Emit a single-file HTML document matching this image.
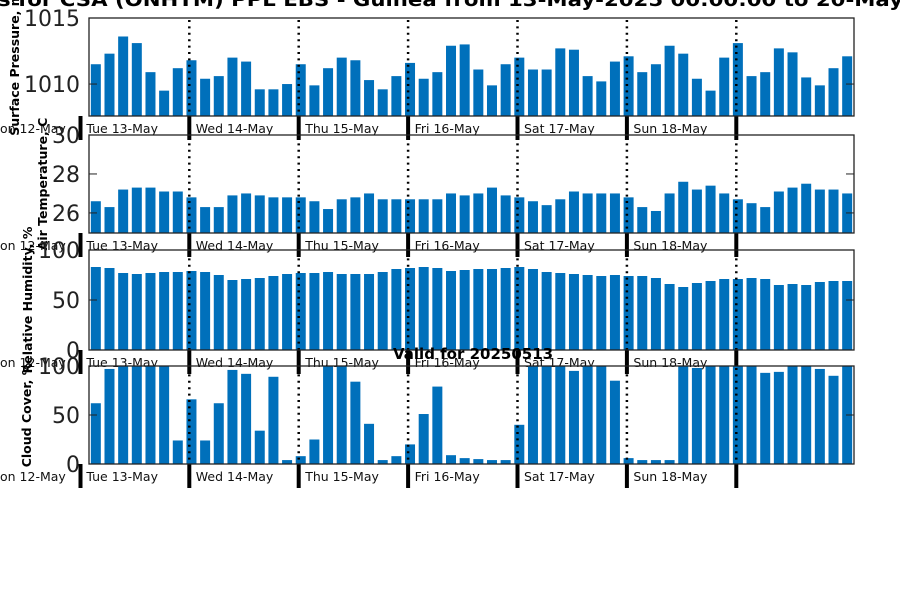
<!DOCTYPE html>
<html><head><meta charset="utf-8"><style>
html,body{margin:0;padding:0;background:#fff;}
svg{display:block;font-family:"DejaVu Sans","Liberation Sans",sans-serif;}
</style></head><body>
<svg id="chart" width="900" height="600" viewBox="0 0 900 600" xmlns="http://www.w3.org/2000/svg">
<rect x="0" y="0" width="900" height="600" fill="#fff"/>
<text x="-2" y="6" font-size="19" font-weight="bold" textLength="905" lengthAdjust="spacingAndGlyphs">s for CSA (ONHTM) PPL EBS  - Guinea from 13-May-2025 00:00:00 to 20-May</text>
<g id="layer"></g>
<text x="393" y="359" font-size="15" font-weight="bold">Valid for 20250513</text>
</svg>
<script>
const dayLabels = ["Tue 13-May","Wed 14-May","Thu 15-May","Fri 16-May","Sat 17-May","Sun 18-May"];
const pressure = [1011.5,1012.3,1013.6,1013.1,1010.9,1009.5,1011.2,1011.8,1010.4,1010.6,1012.0,1011.7,1009.6,1009.6,1010.0,1011.5,1009.9,1011.2,1012.0,1011.8,1010.3,1009.6,1010.6,1011.6,1010.4,1010.9,1012.9,1013.0,1011.1,1009.9,1011.5,1012.0,1011.1,1011.1,1012.7,1012.6,1010.6,1010.2,1011.7,1012.1,1010.9,1011.5,1012.9,1012.3,1010.4,1009.5,1012.0,1013.1,1010.6,1010.9,1012.7,1012.4,1010.5,1009.9,1011.2,1012.1];
const temperature = [26.6,26.3,27.2,27.3,27.3,27.1,27.1,26.8,26.3,26.3,26.9,27.0,26.9,26.8,26.8,26.8,26.6,26.2,26.7,26.8,27.0,26.7,26.7,26.7,26.7,26.7,27.0,26.9,27.0,27.3,26.9,26.8,26.6,26.4,26.7,27.1,27.0,27.0,27.0,26.8,26.3,26.1,27.0,27.6,27.2,27.4,27.0,26.7,26.5,26.3,27.1,27.3,27.5,27.2,27.2,27.0];
const humidity = [83,82,77,76,77,78,78,79,78,75,70,71,72,74,76,77,77,78,76,76,76,78,81,82,83,82,79,80,81,81,82,83,81,78,77,76,75,74,75,74,74,72,66,63,67,69,71,71,72,71,65,66,65,68,69,69];
const cloud = [62,97,100,100,100,100,24,66,24,62,96,92,34,89,4,8,25,100,100,84,41,4,8,20,51,79,9,6,5,4,4,40,100,100,100,95,100,100,85,6,4,4,4,100,98,100,100,100,100,93,94,100,100,97,90,100];
const pressureTicks = [1010,1015];
const tempTicks = [26,28,30];
const humTicks = [0,50,100];
const cloudTicks = [0,50,100];

const NS="http://www.w3.org/2000/svg";
const layer=document.getElementById('layer');
const X0=89,X1=854,N=56,BW=(X1-X0)/N;
const DAY0=189.3,DAYW=109.4;
function xScale(i){return X0+(i+0.5)*BW;}
function mk(tag,attrs){const e=document.createElementNS(NS,tag);for(const k in attrs)e.setAttribute(k,attrs[k]);layer.appendChild(e);return e;}

const panels=[
 {name:'pressure',data:pressure,ticks:pressureTicks,top:18,bot:116,min:1007.58,max:1015,label:'Surface Pressure, mb',lx:14,ly:60,tfs:22},
 {name:'temperature',data:temperature,ticks:tempTicks,top:135,bot:233,min:24.97,max:30,label:'Air Temperature, C',lx:42,ly:184,tfs:22},
 {name:'humidity',data:humidity,ticks:humTicks,top:250,bot:350,min:0,max:100,label:'Relative Humidity, %',lx:27,ly:300,tfs:22},
 {name:'cloud-cover',data:cloud,ticks:cloudTicks,top:366,bot:464,min:0,max:100,label:'Cloud Cover, %',lx:26,ly:415,tfs:22}
];

panels.forEach(p=>{
  const y=v=>p.bot-(v-p.min)/(p.max-p.min)*(p.bot-p.top);
  p.data.forEach((v,i)=>{
    const yt=Math.max(p.top,y(v));
    const r=mk('rect',{x:(xScale(i)-5).toFixed(2),y:yt.toFixed(2),width:10,height:(p.bot-yt).toFixed(2),fill:'#0070bb'});
    
    
  });
  for(let d=0;d<6;d++){
    const dx=DAY0+d*DAYW;
    const l=mk('line',{x1:dx,x2:dx,y1:p.top+2,y2:p.bot,stroke:'#000','stroke-width':2.5,'stroke-dasharray':'2 4.4'});
    
    
    const t=mk('line',{x1:dx,x2:dx,y1:p.bot,y2:p.bot+24,stroke:'#000','stroke-width':4});
    
    
    const tx=mk('text',{x:dx-DAYW+6.5+(d==0?0:0),y:p.bot+17,'font-size':12.5,fill:'#111'});
    tx.textContent=dayLabels[d];
    
    
  }
  const st=mk('line',{x1:80.5,x2:80.5,y1:p.bot,y2:p.bot+24,stroke:'#000','stroke-width':4});
  
  
  const ol=mk('text',{x:0,y:p.bot+17,'font-size':12.5,fill:'#111'});
  ol.textContent='on 12-May';
  
  
  const fr=mk('rect',{x:X0,y:p.top,width:X1-X0,height:p.bot-p.top,fill:'none',stroke:'#222','stroke-width':1.3});
  
  
  p.ticks.forEach(v=>{
    const ty=y(v);
    const a=mk('line',{x1:X0,x2:X0+8,y1:ty,y2:ty,stroke:'#222','stroke-width':1});
    
    
    const b=mk('line',{x1:X1-8,x2:X1,y1:ty,y2:ty,stroke:'#222','stroke-width':1});
    
    
    const lt=mk('text',{x:X0-9,y:ty+8,'font-size':p.tfs,'text-anchor':'end',fill:'#222'});
    lt.textContent=String(v);
    
    
  });
  const yl=mk('text',{x:0,y:0,'font-size':12.5,'font-weight':'bold','text-anchor':'middle',transform:`translate(${p.lx+5},${p.ly}) rotate(-90)`});
  yl.textContent=p.label;
  
  
});
</script>
</body></html>
